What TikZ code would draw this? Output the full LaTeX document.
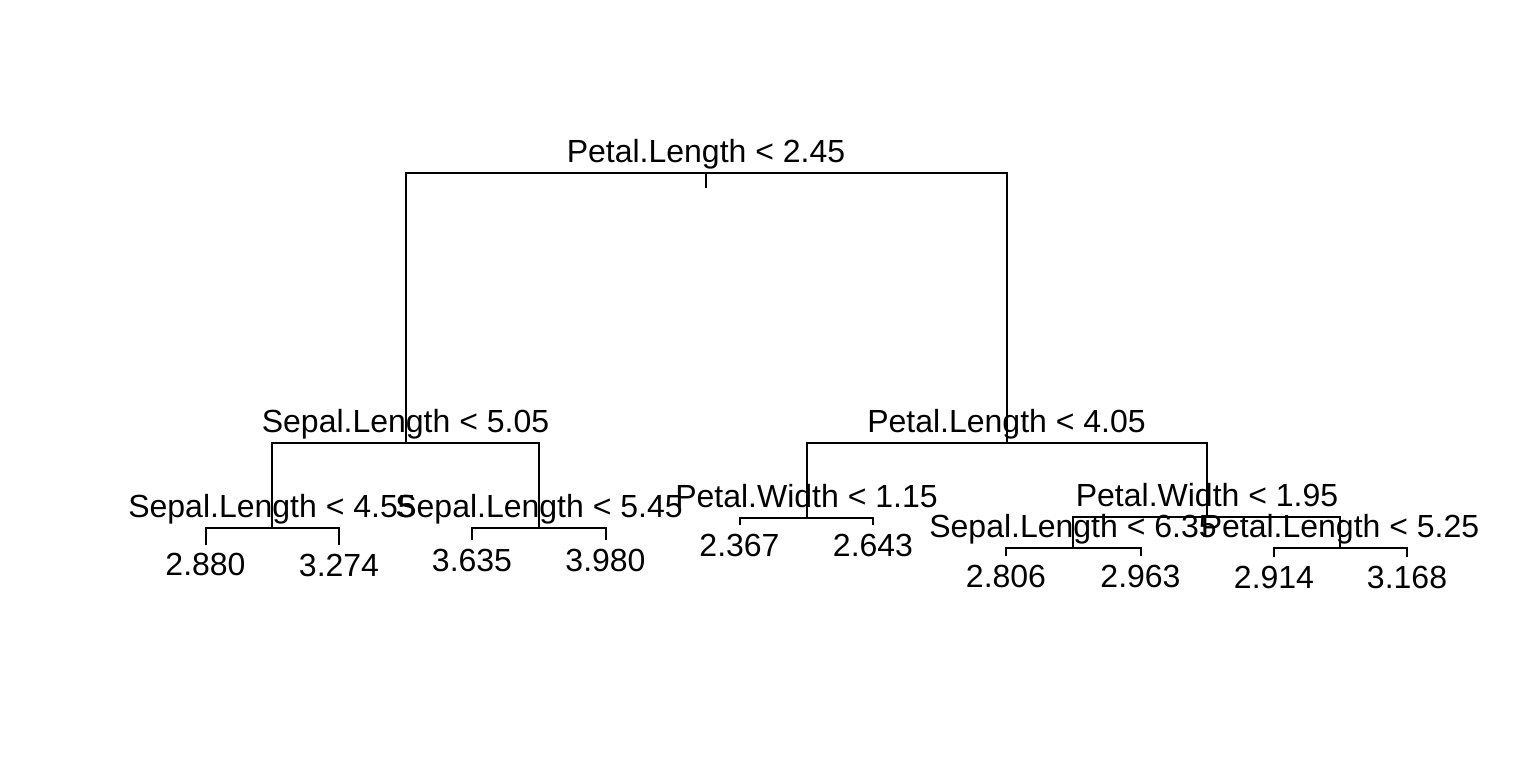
\documentclass[tikz,border=0pt]{standalone}
\usepackage{fontspec}
\setmainfont{Liberation Sans}
\begin{document}
\begin{tikzpicture}[x=0.5pt,y=-0.5pt,
  branch/.style={draw=black,line width=1pt},
  splitlab/.style={anchor=base,inner sep=0pt,font=\fontsize{16}{19}\selectfont,yshift=5.25pt},
  leaflab/.style={anchor=base,inner sep=0pt,font=\fontsize{16}{19}\selectfont,yshift=-15.5pt}]
\useasboundingbox (0,0) rectangle (1536,768);
% split points
\coordinate (n0) at (706,172.7);
\coordinate (s0) at (706,188);
\coordinate (n1) at (405.5,443);
\coordinate (n2) at (1006.5,443);
\coordinate (n3) at (272,527.7);
\coordinate (n4) at (539,527.7);
\coordinate (n5) at (806.5,517.7);
\coordinate (n6) at (1207,517.2);
\coordinate (n7) at (1073,547.7);
\coordinate (n8) at (1340,547.7);
% leaf ends
\coordinate (l1) at (205.5,544.5);
\coordinate (l2) at (339,545);
\coordinate (l3) at (472,540);
\coordinate (l4) at (605.5,540);
\coordinate (l5) at (739.5,525);
\coordinate (l6) at (873,525);
\coordinate (l7) at (1006,556);
\coordinate (l8) at (1140.5,556);
\coordinate (l9) at (1274,557);
\coordinate (l10) at (1407,557);
% branches
\draw[branch] (n0) -- (s0);
\draw[branch] (n1) |- (n0) -| (n2);
\draw[branch] (n3) |- (n1) -| (n4);
\draw[branch] (n5) |- (n2) -| (n6);
\draw[branch] (l1) |- (n3) -| (l2);
\draw[branch] (l3) |- (n4) -| (l4);
\draw[branch] (l5) |- (n5) -| (l6);
\draw[branch] (n7) |- (n6) -| (n8);
\draw[branch] (l7) |- (n7) -| (l8);
\draw[branch] (l9) |- (n8) -| (l10);
% split labels
\node[splitlab] (t0) at (n0) {Petal.Length < 2.45};
\node[splitlab] (t1) at (n1) {Sepal.Length < 5.05};
\node[splitlab] (t2) at (n2) {Petal.Length < 4.05};
\node[splitlab] (t3) at (n3) {Sepal.Length < 4.55};
\node[splitlab] (t4) at (n4) {Sepal.Length < 5.45};
\node[splitlab] (t5) at (n5) {Petal.Width < 1.15};
\node[splitlab] (t6) at (n6) {Petal.Width < 1.95};
\node[splitlab] (t7) at (n7) {Sepal.Length < 6.35};
\node[splitlab] (t8) at (n8) {Petal.Length < 5.25};
% leaf labels
\node[leaflab] (v1) at (l1) {2.880};
\node[leaflab] (v2) at (l2) {3.274};
\node[leaflab] (v3) at (l3) {3.635};
\node[leaflab] (v4) at (l4) {3.980};
\node[leaflab] (v5) at (l5) {2.367};
\node[leaflab] (v6) at (l6) {2.643};
\node[leaflab] (v7) at (l7) {2.806};
\node[leaflab] (v8) at (l8) {2.963};
\node[leaflab] (v9) at (l9) {2.914};
\node[leaflab] (v10) at (l10) {3.168};
\end{tikzpicture}
\end{document}
